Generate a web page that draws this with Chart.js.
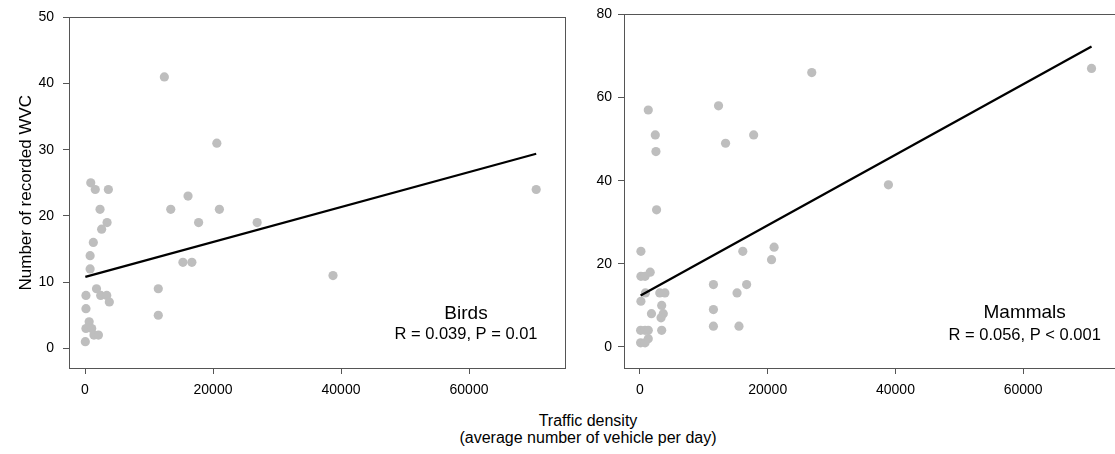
<!DOCTYPE html>
<html><head><meta charset="utf-8">
<script src="https://cdn.jsdelivr.net/npm/chart.js@4/dist/chart.umd.min.js"></script>
<style>
html,body{margin:0;padding:0;background:#fff;overflow:hidden;width:1115px;height:454px;position:relative;}
#c1wrap{position:absolute;left:0;top:0;width:572px;height:400px;}
#c2wrap{position:absolute;left:572px;top:0;width:558px;height:400px;}
#xtitle{position:absolute;left:388px;width:400px;top:412px;text-align:center;font-family:"Liberation Sans",Arial,sans-serif;font-size:16px;line-height:17px;color:#000;}
</style></head><body>
<div id="c1wrap"><canvas id="c1"></canvas></div>
<div id="c2wrap"><canvas id="c2"></canvas></div>
<div id="xtitle">Traffic density<br>(average number of vehicle per day)</div>
<script>
// ---- data ----
const birdsTraffic = [12400,20600,900,1600,3650,16100,2350,13400,21000,3450,17750,26900,2600,1300,800,800,15300,16700,38750,1800,11450,150,2450,3400,3800,150,11450,650,150,1050,1400,2100,50,70500];
const birdsWVC     = [41,31,25,24,24,23,21,21,21,19,19,19,18,16,14,12,13,13,11,9,9,8,8,8,7,6,5,4,3,3,2,2,1,24];
const mammalsTraffic = [26900,12300,1300,2400,17800,2500,13400,2600,150,16100,21000,20600,150,800,1600,11500,16700,850,3100,3900,15200,150,3400,1800,3650,3300,11500,3400,11500,15500,100,800,1300,100,800,1300,38900,70700];
const mammalsWVC     = [66,58,57,51,51,47,49,33,23,23,24,21,17,17,18,15,15,13,13,13,13,11,10,8,8,7,9,4,5,5,4,4,4,1,1,2,39,67];
const birdsFitTraffic = [50,70500];
const birdsFitWVC     = [10.8,29.4];
const mammalsFitTraffic = [100,70700];
const mammalsFitWVC     = [12.4,72.3];
const xTickValues = [0,20000,40000,60000];
const xTickLabels = ['0','20000','40000','60000'];
const birdsYTicks = [0,10,20,30,40,50];
const mammalsYTicks = [0,20,40,60,80];
const panelNames = ['Birds','Mammals'];
const panelStats = ['R = 0.039, P = 0.01','R = 0.056, P < 0.001'];
const yTitle = 'Number of recorded WVC';

const FONT = '"Liberation Sans", Arial, Helvetica, sans-serif';

const framePlugin = {
  id:'frame',
  afterDatasetsDraw(chart){
    const {ctx, chartArea:a} = chart;
    ctx.save();
    ctx.strokeStyle = '#555'; ctx.lineWidth = 1;
    ctx.strokeRect(Math.round(a.left)+0.5, Math.round(a.top)+0.5, Math.round(a.right-a.left), Math.round(a.bottom-a.top));
    ctx.restore();
  }
};
const panelText = {
  id:'panelText',
  afterDraw(chart, args, o){
    const {ctx, scales:{x,y}} = chart;
    const px = x.getPixelForValue(o.x);
    ctx.save();
    ctx.fillStyle = '#000'; ctx.textAlign = 'center'; ctx.textBaseline = 'alphabetic';
    ctx.font = '19px ' + FONT;
    ctx.fillText(o.title, px, y.getPixelForValue(o.y1));
    ctx.font = '16.5px ' + FONT;
    ctx.fillText(o.stats, px, y.getPixelForValue(o.y2));
    ctx.restore();
  }
};

function pts(xs, ys){ return xs.map((v,i)=>({x:v, y:ys[i]})); }

function makeChart(id, xs, ys, fx, fy, yTicks, cfg){
  return new Chart(document.getElementById(id), {
    type:'scatter',
    data:{datasets:[
      {type:'line', data:pts(fx,fy), borderColor:'#000', borderWidth:2.3, pointRadius:0, fill:false, order:0, showLine:true},
      {data:pts(xs,ys), backgroundColor:'#bebebe', borderWidth:0, pointRadius:4.6, pointHoverRadius:4.6, order:1}
    ]},
    options:{
      responsive:true, maintainAspectRatio:false, animation:false,
      layout:{padding:{left:0, top:cfg.top, right:cfg.padRight, bottom:0}},
      plugins:{legend:{display:false}, tooltip:{enabled:false},
        panelText:{x:cfg.tx, y1:cfg.ty1, y2:cfg.ty2, title:cfg.name, stats:cfg.stats}},
      scales:{
        x:{type:'linear', position:'bottom', min:-2500, max:75000,
          afterBuildTicks:s=>{ s.ticks = xTickValues.map(v=>({value:v})); },
          afterFit:s=>{ s.height = 32; },
          grid:{drawOnChartArea:false, drawTicks:true, tickLength:6, color:'#555', lineWidth:1},
          border:{display:false},
          ticks:{font:{family:FONT, size:14}, color:'#000', padding:8, maxRotation:0, autoSkip:false,
            callback:(v)=>{ const i = xTickValues.indexOf(v); return i>=0 ? xTickLabels[i] : ''; }}
        },
        y:{type:'linear', position:'left', min:cfg.yMin, max:cfg.yMax,
          afterBuildTicks:s=>{ s.ticks = yTicks.map(v=>({value:v})); },
          afterFit:s=>{ s.width = cfg.yWidth; },
          grid:{drawOnChartArea:false, drawTicks:true, tickLength:6, color:'#555', lineWidth:1},
          border:{display:false},
          ticks:{font:{family:FONT, size:14}, color:'#000', padding:cfg.yPad, autoSkip:false,
            callback:(v)=>String(v)},
          title:{display:!!cfg.yTitle, text:cfg.yTitle||'', color:'#000', font:{family:FONT, size:17}, padding:{top:16,bottom:0}}
        }
      }
    },
    plugins:[framePlugin, panelText]
  });
}

makeChart('c1', birdsTraffic, birdsWVC, birdsFitTraffic, birdsFitWVC, birdsYTicks,
  {top:11, padRight:7, yWidth:69, yPad:9, yMin:-2.97, yMax:50, yTitle:yTitle,
   tx:59530, ty1:4.4, ty2:1.44, name:panelNames[0], stats:panelStats[0]});
makeChart('c2', mammalsTraffic, mammalsWVC, mammalsFitTraffic, mammalsFitWVC, mammalsYTicks,
  {top:10, padRight:11, yWidth:52, yPad:6, yMin:-5.06, yMax:80, yTitle:null,
   tx:60230, ty1:6.9, ty2:1.6, name:panelNames[1], stats:panelStats[1]});
</script>
</body></html>
